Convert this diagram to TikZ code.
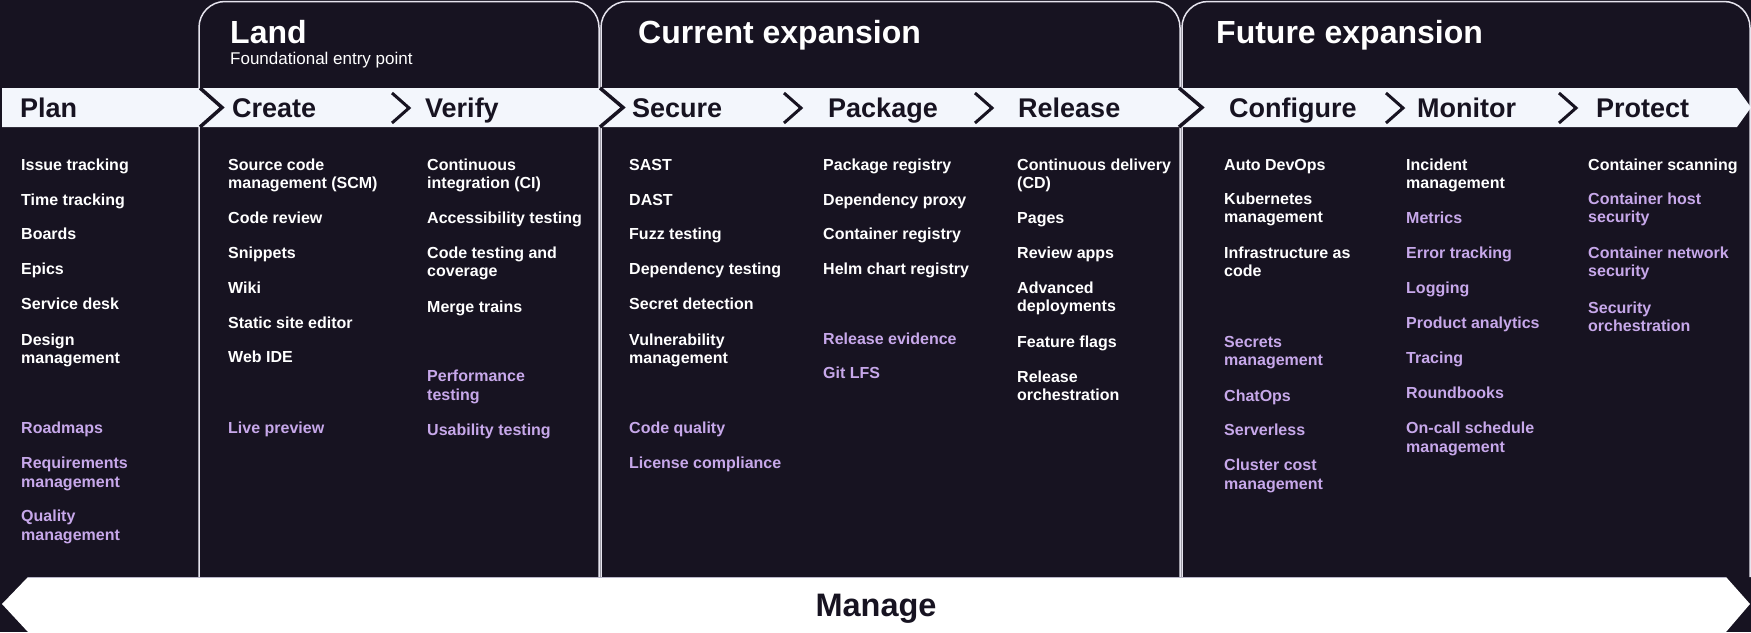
\documentclass[tikz,border=0pt]{standalone}
\usepackage{fontspec}
\setmainfont{Liberation Sans}
\definecolor{bg}{HTML}{171321}
\definecolor{barc}{HTML}{F3F6FC}
\definecolor{lav}{HTML}{C7A8EA}
\definecolor{ink}{HTML}{171321}
\definecolor{edge}{HTML}{E6E4EE}
\definecolor{mline}{HTML}{B8B6C8}
\tikzset{
 itemw/.style={anchor=north west, inner sep=0pt, align=left, text=white,
   font=\bfseries\fontsize{16}{18.5}\selectfont, yshift=5.3pt,
   execute at begin node={\rule{0pt}{12pt}}},
 itemp/.style={itemw, text=lav},
 stage/.style={anchor=base west, inner sep=0pt, text=ink, font=\bfseries\fontsize{27}{30}\selectfont},
 title/.style={anchor=base west, inner sep=0pt, text=white, font=\bfseries\fontsize{32}{36}\selectfont},
 subtitle/.style={anchor=base west, inner sep=0pt, text=white, font=\fontsize{17}{20}\selectfont},
 boxline/.style={draw=edge, line width=1.5pt, rounded corners=26pt},
 chev/.style={draw=ink, line width=3pt, line join=miter},
 bigchev/.style={draw=bg, line width=3.5pt, line join=miter},
}
\begin{document}
\begin{tikzpicture}[x=1pt,y=-1pt]
\useasboundingbox (0,0) rectangle (1751,632);
\fill[bg] (0,0) rectangle (1751,632);
% stage group boxes
\draw[boxline] (199,577) -- (199,1.5) -- (599,1.5) -- (599,577);
\draw[boxline] (601,577) -- (601,1.5) -- (1180,1.5) -- (1180,577);
\draw[boxline] (1182,577) -- (1182,1.5) -- (1750,1.5) -- (1750,577);
% stage bar
\fill[barc] (2,88) -- (1737,88) -- (1751,107.5) -- (1737,127) -- (2,127) -- cycle;
\draw[bigchev] (200,88) -- (222,107.5) -- (200,127);
\draw[bigchev] (600,88) -- (623,107.5) -- (600,127);
\draw[bigchev] (1179,88) -- (1202,107.5) -- (1179,127);
\draw[chev] (392,93) -- (409,108) -- (392,123);
\draw[chev] (784,93) -- (801,108) -- (784,123);
\draw[chev] (975,93) -- (992,108) -- (975,123);
\draw[chev] (1386,93) -- (1403,108) -- (1386,123);
\draw[chev] (1559,93) -- (1576,108) -- (1559,123);
% titles
\node[title] (land) at (230,43) {Land};
\node[subtitle] (landsub) at (230,64) {Foundational entry point};
\node[title] (cur) at (638,43) {Current expansion};
\node[title] (fut) at (1216,43) {Future expansion};
% stages
\node[stage] (plan) at (20,117) {Plan};
\node[stage] (create) at (232,117) {Create};
\node[stage] (verify) at (425,117) {Verify};
\node[stage] (secure) at (632,117) {Secure};
\node[stage] (package) at (828,117) {Package};
\node[stage] (release) at (1018,117) {Release};
\node[stage] (configure) at (1229,117) {Configure};
\node[stage] (monitor) at (1417,117) {Monitor};
\node[stage] (protect) at (1596,117) {Protect};
% Plan
\node[itemw] (pl1) at (21,164) {Issue tracking};
\node[itemw] (pl2) at (21,199) {Time tracking};
\node[itemw] (pl3) at (21,233) {Boards};
\node[itemw] (pl4) at (21,268) {Epics};
\node[itemw] (pl5) at (21,303) {Service desk};
\node[itemw] (pl6) at (21,339) {Design\\management};
\node[itemp] (pl7) at (21,427) {Roadmaps};
\node[itemp] (pl8) at (21,462) {Requirements\\management};
\node[itemp] (pl9) at (21,515) {Quality\\management};
% Create
\node[itemw] (cr1) at (228,164) {Source code\\management (SCM)};
\node[itemw] (cr2) at (228,217) {Code review};
\node[itemw] (cr3) at (228,252) {Snippets};
\node[itemw] (cr4) at (228,287) {Wiki};
\node[itemw] (cr5) at (228,322) {Static site editor};
\node[itemw] (cr6) at (228,356) {Web IDE};
\node[itemp] (cr7) at (228,427) {Live preview};
% Verify
\node[itemw] (ve1) at (427,164) {Continuous\\integration (CI)};
\node[itemw] (ve2) at (427,217) {Accessibility testing};
\node[itemw] (ve3) at (427,252) {Code testing and\\coverage};
\node[itemw] (ve4) at (427,306) {Merge trains};
\node[itemp] (ve5) at (427,375) {Performance\\testing};
\node[itemp] (ve6) at (427,429) {Usability testing};
% Secure
\node[itemw] (se1) at (629,164) {SAST};
\node[itemw] (se2) at (629,199) {DAST};
\node[itemw] (se3) at (629,233) {Fuzz testing};
\node[itemw] (se4) at (629,268) {Dependency testing};
\node[itemw] (se5) at (629,303) {Secret detection};
\node[itemw] (se6) at (629,339) {Vulnerability\\management};
\node[itemp] (se7) at (629,427) {Code quality};
\node[itemp] (se8) at (629,462) {License compliance};
% Package
\node[itemw] (pa1) at (823,164) {Package registry};
\node[itemw] (pa2) at (823,199) {Dependency proxy};
\node[itemw] (pa3) at (823,233) {Container registry};
\node[itemw] (pa4) at (823,268) {Helm chart registry};
\node[itemp] (pa5) at (823,338) {Release evidence};
\node[itemp] (pa6) at (823,372) {Git LFS};
% Release
\node[itemw] (re1) at (1017,164) {Continuous delivery\\(CD)};
\node[itemw] (re2) at (1017,217) {Pages};
\node[itemw] (re3) at (1017,252) {Review apps};
\node[itemw] (re4) at (1017,287) {Advanced\\deployments};
\node[itemw] (re5) at (1017,341) {Feature flags};
\node[itemw] (re6) at (1017,376) {Release\\orchestration};
% Configure
\node[itemw] (co1) at (1224,164) {Auto DevOps};
\node[itemw] (co2) at (1224,198) {Kubernetes\\management};
\node[itemw] (co3) at (1224,252) {Infrastructure as\\code};
\node[itemp] (co4) at (1224,341) {Secrets\\management};
\node[itemp] (co5) at (1224,395) {ChatOps};
\node[itemp] (co6) at (1224,429) {Serverless};
\node[itemp] (co7) at (1224,464) {Cluster cost\\management};
% Monitor
\node[itemw] (mo1) at (1406,164) {Incident\\management};
\node[itemp] (mo2) at (1406,217) {Metrics};
\node[itemp] (mo3) at (1406,252) {Error tracking};
\node[itemp] (mo4) at (1406,287) {Logging};
\node[itemp] (mo5) at (1406,322) {Product analytics};
\node[itemp] (mo6) at (1406,357) {Tracing};
\node[itemp] (mo7) at (1406,392) {Roundbooks};
\node[itemp] (mo8) at (1406,427) {On-call schedule\\management};
% Protect
\node[itemw] (pr1) at (1588,164) {Container scanning};
\node[itemp] (pr2) at (1588,198) {Container host\\security};
\node[itemp] (pr3) at (1588,252) {Container network\\security};
\node[itemp] (pr4) at (1588,307) {Security\\orchestration};
% Manage bar
\fill[white] (2,604) -- (28,577) -- (1726,577) -- (1750,604) -- (1726,632) -- (28,632) -- cycle;
\draw[mline, line width=1pt] (28,577) -- (1726,577);
\node[anchor=base, inner sep=0pt, text=ink, font=\bfseries\fontsize{32.5}{36}\selectfont] (manage) at (876,616.5) {Manage};
\end{tikzpicture}
\end{document}
